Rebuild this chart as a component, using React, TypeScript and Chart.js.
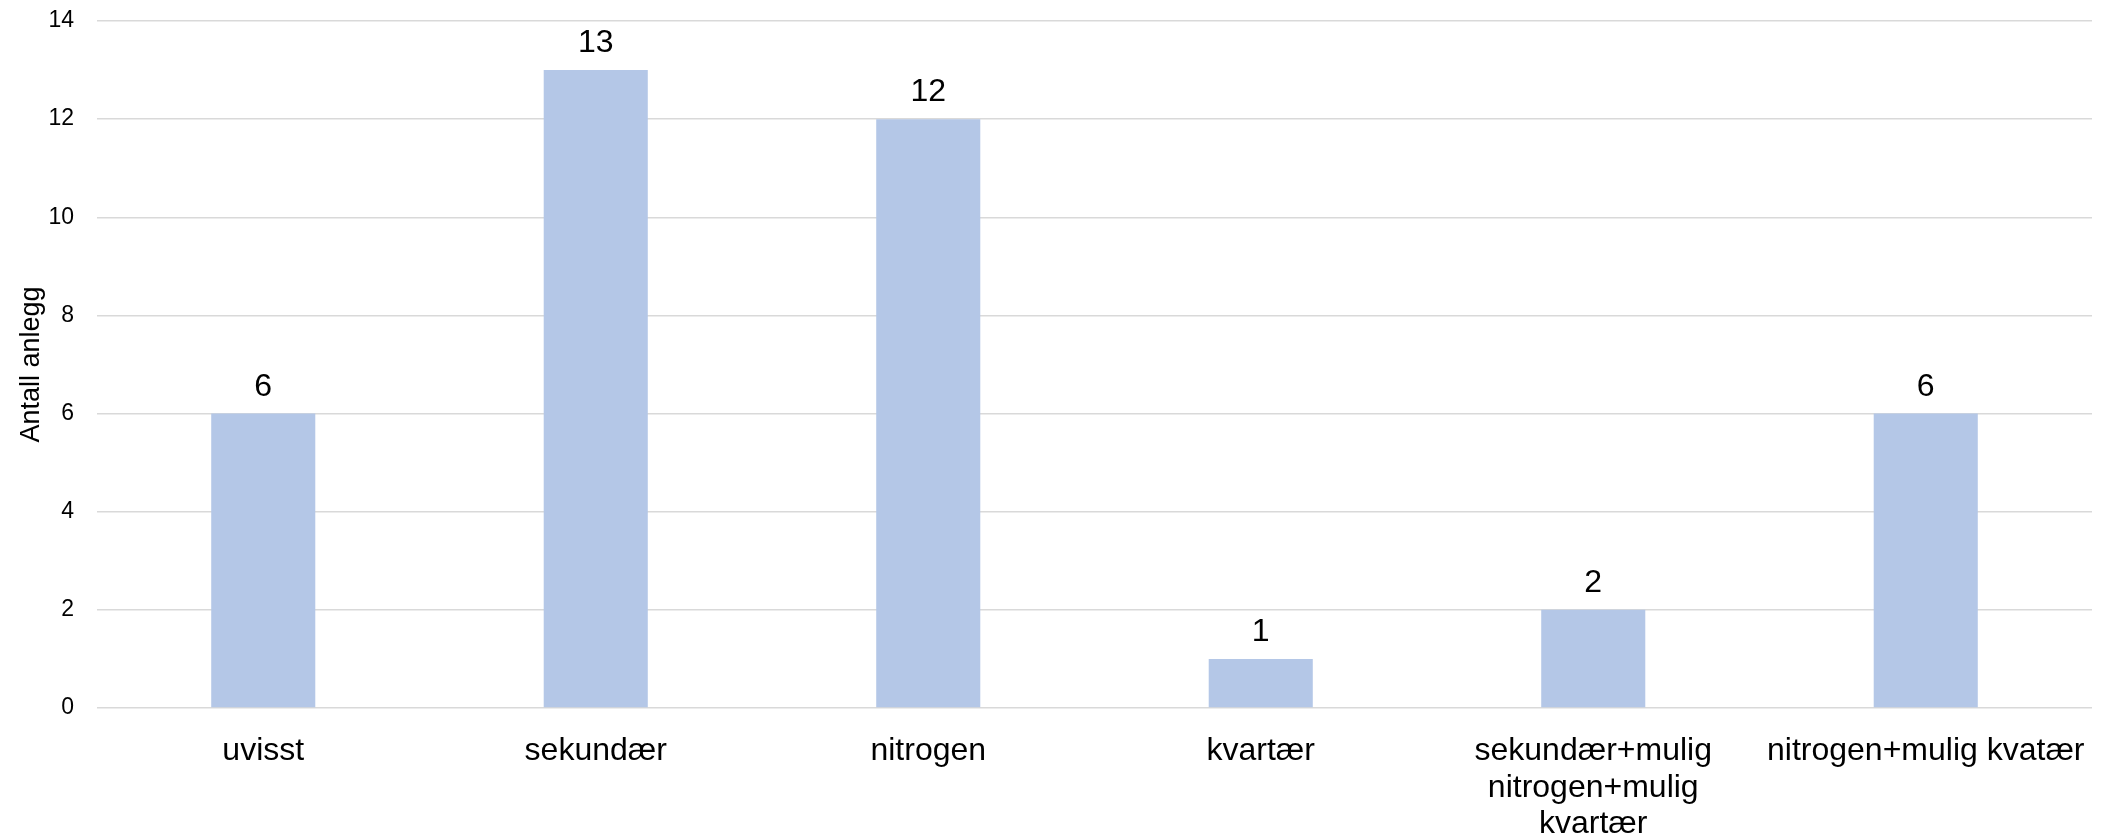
import React, { useEffect, useRef } from "react";
import { Chart, registerables } from "chart.js";

Chart.register(...registerables);

const categories: string[][] = [
  ["uvisst"],
  ["sekundær"],
  ["nitrogen"],
  ["kvartær"],
  ["sekundær+mulig", "nitrogen+mulig", "kvartær"],
  ["nitrogen+mulig kvatær"],
];
const values: number[] = [6, 13, 12, 1, 2, 6];
const yMin = 0;
const yMax = 14;
const yStep = 2;
const yTitle = "Antall anlegg";

const FONT = "'Liberation Sans', Arial, sans-serif";
const BAR_COLOR = "#b4c7e7";
const GRID_COLOR = "#d9d9d9";
const TEXT_COLOR = "#000000";

const W = 2108;
const H = 838;

const valueLabels = {
  id: "valueLabels",
  afterDatasetsDraw(chart: any) {
    const ctx = chart.ctx;
    const ds = chart.data.datasets[0];
    const meta = chart.getDatasetMeta(0);
    ctx.save();
    ctx.font = `32px ${FONT}`;
    ctx.fillStyle = TEXT_COLOR;
    ctx.textAlign = "center";
    ctx.textBaseline = "alphabetic";
    meta.data.forEach((bar: any, i: number) => {
      ctx.fillText(String(ds.data[i]), bar.x, bar.y - 18);
    });
    ctx.restore();
  },
};

const zeroPad = (s: any) => {
  s.paddingTop = 0;
  s.paddingBottom = 0;
  s.paddingLeft = 0;
  s.paddingRight = 0;
};

export default function App() {
  const ref = useRef<HTMLCanvasElement | null>(null);

  useEffect(() => {
    document.body.style.margin = "0";
    document.body.style.overflow = "hidden";
    const canvas = ref.current;
    if (!canvas) return;
    const chart = new Chart(canvas, {
      type: "bar",
      data: {
        labels: categories,
        datasets: [
          {
            data: values,
            backgroundColor: BAR_COLOR,
            borderWidth: 0,
            categoryPercentage: 1,
            barPercentage: 0.313,
          },
        ],
      },
      options: {
        responsive: false,
        animation: false,
        devicePixelRatio: 1,
        layout: { padding: { left: 0, top: 21, right: 16, bottom: 0 } },
        plugins: {
          legend: { display: false },
          tooltip: { enabled: false },
          title: { display: false },
        },
        scales: {
          x: {
            grid: { display: false, drawTicks: false },
            border: { display: false },
            ticks: {
              color: TEXT_COLOR,
              font: { family: FONT, size: 32, lineHeight: 1.14 },
              padding: 25,
              maxRotation: 0,
              minRotation: 0,
              autoSkip: false,
            },
            afterFit: (s: any) => {
              s.height = H - 708;
              zeroPad(s);
            },
          },
          y: {
            min: yMin,
            max: yMax,
            grid: { color: GRID_COLOR, lineWidth: 1.5, drawTicks: false },
            border: { display: false },
            ticks: {
              stepSize: yStep,
              color: TEXT_COLOR,
              font: { family: FONT, size: 23 },
              padding: 23,
            },
            title: {
              display: true,
              text: yTitle,
              color: TEXT_COLOR,
              font: { family: FONT, size: 27 },
              padding: { top: 15, bottom: 0 },
            },
            afterFit: (s: any) => {
              s.width = 97;
              zeroPad(s);
            },
          },
        },
      },
      plugins: [valueLabels],
    });
    return () => chart.destroy();
  }, []);

  return (
    <div style={{ width: W, height: H, background: "#ffffff" }}>
      <canvas ref={ref} width={W} height={H} style={{ width: W, height: H, display: "block" }} />
    </div>
  );
}
